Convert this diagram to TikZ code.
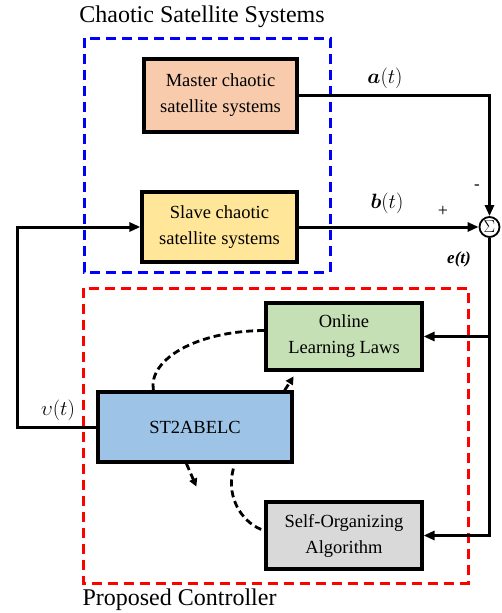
\documentclass[tikz,border=0pt]{standalone}
\usepackage{amsmath}
\usepackage{fontspec}
\setmainfont{Liberation Serif}
\usetikzlibrary{arrows.meta, positioning, calc}

\definecolor{masterc}{HTML}{F8CBAD}
\definecolor{slavec}{HTML}{FFE699}
\definecolor{learnc}{HTML}{C5E0B4}
\definecolor{ctrlc}{HTML}{9DC3E6}
\definecolor{orgc}{HTML}{D9D9D9}

\begin{document}
\begin{tikzpicture}[x=1pt, y=-1pt,
    blk/.style={draw, line width=3.2pt, align=center, font=\fontsize{18.5}{26}\selectfont},
    conn/.style={line width=3pt, -{Triangle[length=11pt, width=9pt]}},
    dashln/.style={line width=2.8pt, dash pattern=on 7pt off 4pt},
    grp/.style={line width=3pt, dash pattern=on 10pt off 6pt}]
  \useasboundingbox (0,0) rectangle (501,613);
  % groups
  \draw[grp, blue] (84,38) rectangle (330,272);
  \draw[grp, red] (83,288) rectangle (468,583);
  \node[font=\fontsize{24}{28}\selectfont] (ttl) at (202,17) {Chaotic Satellite Systems};
  \node[font=\fontsize{24}{28}\selectfont, anchor=west] (ctl) at (79,600) {Proposed Controller};
  % blocks
  \foreach \n/\x/\y/\w/\h/\c/\t in {master/220.5/95.5/153/73/masterc/{Master chaotic\\satellite systems},
      slave/219.5/227/155/70/slavec/{Slave chaotic\\satellite systems},
      learn/344/336.5/156/67/learnc/{Online\\Learning Laws},
      ctrl/195/427/194/70/ctrlc/{ST2ABELC},
      org/344/535.5/156/67/orgc/{Self-Organizing\\Algorithm}} {
    \node[blk, fill=\c, minimum width=\w pt, minimum height=\h pt] (\n) at (\x,\y) {\t};
  }
  \node[draw, circle, line width=1.8pt, minimum size=20pt, inner sep=0pt,
        font=\fontsize{17}{17}\selectfont] (sum) at (489.5,227) {$\Sigma$};
  % signals
  \draw[conn] (master.east) -| (sum.north);
  \draw[conn] (slave.east) -- (sum.west);
  \coordinate (fb) at (17,427);
  \draw[conn] (ctrl.west) -- (fb) |- (slave.west);
  \draw[conn] (sum.south) |- (org.east);
  \draw[conn] (sum.south |- learn.east) -- (learn.east);
  \node[font=\fontsize{20}{20}\selectfont] (la) at (385,78) {$\boldsymbol{a}(t)$};
  \node[font=\fontsize{20}{20}\selectfont] (lb) at (387,203) {$\boldsymbol{b}(t)$};
  \node[font=\fontsize{18}{18}\selectfont] (lp) at (443,211) {+};
  \node[font=\fontsize{17}{17}\selectfont] (lm) at (477,187) {-};
  \node[font=\fontsize{17}{17}\selectfont] (le) at (459,259) {\textbf{\textit{e(t)}}};
  \node[font=\fontsize{20}{20}\selectfont] (lu) at (58,410) {$\upsilon(t)$};
  % internal paths
  \draw[dashln] ($(ctrl.north west)+(57,0)$) .. controls (148,360) and (195,331) .. ($(learn.west)+(0,-6)$);
  \draw[dashln, -{Triangle[length=8pt, width=8pt]}] ($(ctrl.north east)+(-9,0)$) -- ++(9,-14);
  \draw[dashln, -{Triangle[length=8pt, width=8pt]}] ($(ctrl.south west)+(90,0)$) -- ++(10,23);
  \draw[dashln] ($(ctrl.south west)+(137,5)$) .. controls (225,500) and (245,525) .. ($(org.west)+(0,-5)$);
\end{tikzpicture}
\end{document}
